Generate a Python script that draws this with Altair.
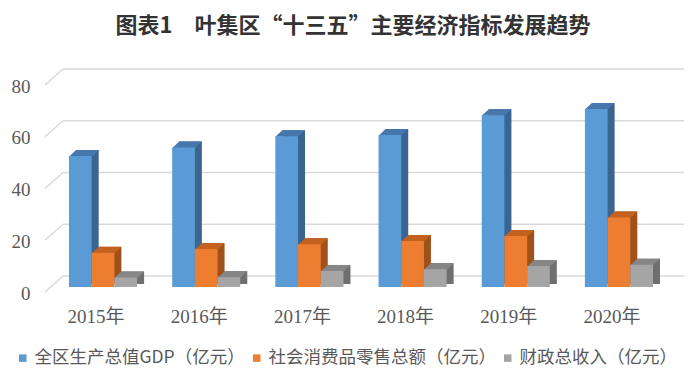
import altair as alt
import pandas as pd

# ---- data ----
years = ["2015年", "2016年", "2017年", "2018年", "2019年", "2020年"]
series = ["全区生产总值GDP（亿元）", "社会消费品零售总额（亿元）", "财政总收入（亿元）"]
gdp = [50.6, 53.9, 58.3, 58.7, 66.4, 68.8]
retail = [13.2, 14.7, 16.5, 17.8, 19.7, 26.9]
fiscal = [3.7, 3.8, 6.2, 6.9, 8.1, 8.6]
y_ticks = [0, 20, 40, 60, 80]

front_colors = ["#5b9bd5", "#ed7d31", "#a5a5a5"]
top_colors = ["#4677ad", "#c3621f", "#868686"]
side_colors = ["#3b6591", "#a0511b", "#6f6f6f"]

title_text = "图表1　叶集区“十三五”主要经济指标发展趋势"

# ---- styling constants ----
W, H = 632, 207
BW = 22.7          # bar front width
DX, DY = 7, 6      # bar depth
GX, GY = 18, 16    # wall depth
serif = "Liberation Serif, Noto Sans CJK SC"
sans = "Noto Sans CJK SC"

rows = []
for k, vals in enumerate([gdp, retail, fiscal]):
    for y, v in zip(years, vals):
        rows.append({"year": y, "series": series[k], "k": k, "value": v})
df = pd.DataFrame(rows)
ticks_df = pd.DataFrame({"v": y_ticks})

yscale = alt.Scale(domain=[0, 80], nice=False, zero=True)
yaxis = alt.Axis(title=None, values=y_ticks, domain=False, ticks=False, grid=False,
                 labelFont=serif, labelFontSize=19, labelColor="#595959",
                 labelPadding=15, labelOffset=6)
xscale = alt.Scale(domain=years, paddingInner=0.341, paddingOuter=0.233)
xaxis = alt.Axis(title=None, labelAngle=0, domain=False, ticks=False, grid=False,
                 labelFont=serif, labelFontSize=19, labelColor="#595959",
                 labelPadding=20, labelOffset=-7)


def yenc(field):
    return alt.Y(f"{field}:Q", scale=yscale, axis=yaxis)


def xenc():
    return alt.X("year:N", scale=xscale, axis=xaxis, sort=years)


layers = []
grid = alt.Chart(ticks_df).mark_rule(color="#d9d9d9", strokeWidth=1.5, yOffset=-11).encode(
    y=yenc("v"), x=alt.value(GX), x2=alt.value(W + 7)
)
diag = alt.Chart(ticks_df).mark_rule(color="#d9d9d9", strokeWidth=1.5, yOffset=5, y2Offset=-11).encode(
    y=yenc("v"), y2=alt.Y2("v:Q"), x=alt.value(0), x2=alt.value(GX)
)
layers += [grid, diag]

top_path = "M-0.757,0.04L0.757,0.04L1.223,-0.4L-0.29,-0.4Z"

for k in range(3):
    off = (k - 1) * BW
    base = alt.Chart(df).transform_filter(alt.datum.k == k)
    side = base.mark_bar(width=BW, xOffset=off + DX, yOffset=-DY, y2Offset=-3,
                         color=side_colors[k]).encode(
        x=xenc(), y=yenc("value"), y2=alt.datum(0)
    )
    top = base.mark_point(shape=top_path, size=900, filled=True, opacity=1, strokeWidth=0,
                          color=top_colors[k], xOffset=off).encode(
        x=xenc(), y=yenc("value")
    )
    layers += [side, top]

legend = alt.Legend(title=None, orient="none", legendX=-31, legendY=269, direction="horizontal",
                    symbolType="square", symbolSize=56, symbolStrokeWidth=0, symbolOpacity=1,
                    labelFont=sans, labelFontSize=17.5, labelColor="#595959",
                    columnPadding=3, labelOffset=3, labelLimit=400)

for k in range(3):
    off = (k - 1) * BW
    front = alt.Chart(df).transform_filter(alt.datum.k == k).mark_bar(
        width=BW, xOffset=off
    ).encode(
        x=xenc(), y=yenc("value"), y2=alt.datum(0),
        color=alt.Color("series:N", scale=alt.Scale(domain=series, range=front_colors),
                        legend=legend, sort=series),
    )
    layers.append(front)

chart = alt.layer(*layers).properties(
    width=W, height=H,
    title=alt.TitleParams(title_text, font=sans, fontSize=22, fontWeight="bold",
                          color="#333333", anchor="middle", dx=-8, offset=30),
    autosize=alt.AutoSizeParams(type="none"),
    padding={"left": 37, "top": 72, "right": 9, "bottom": 84},
    background="white",
).configure_view(strokeWidth=0)

chart.save("out.html", embed_options={"renderer": "svg", "actions": False})
